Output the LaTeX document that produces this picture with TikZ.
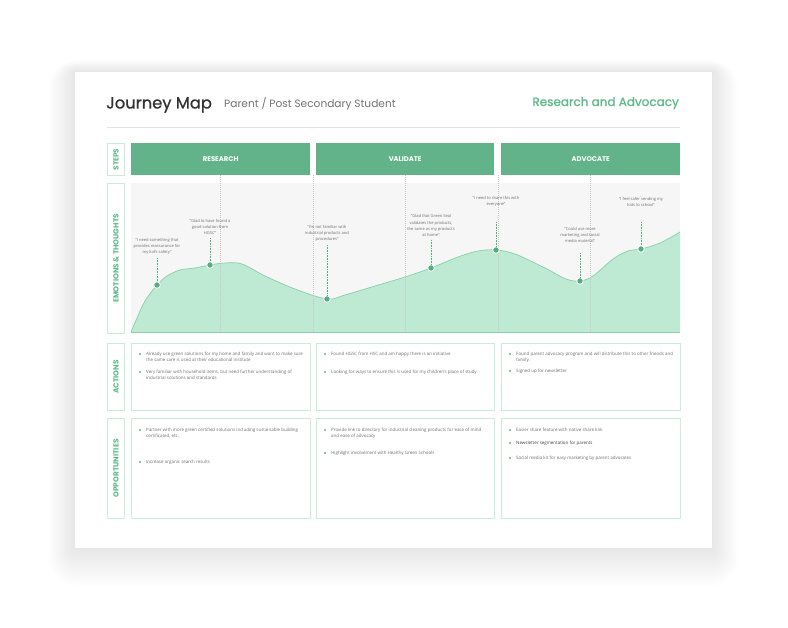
\documentclass[tikz,border=0pt]{standalone}
\usepackage{fontspec}
\setmainfont{Open Sans}
\newfontfamily\pop{Poppins}
\newfontfamily\popm[FakeBold=0.9]{Poppins}
\definecolor{stepgreen}{HTML}{62B38A}
\definecolor{fillgreen}{HTML}{BEE9D2}
\definecolor{linegreen}{HTML}{86D0AA}
\definecolor{dotgreen}{HTML}{52AF7F}
\definecolor{mint}{HTML}{C9ECDB}
\definecolor{chartbg}{HTML}{F6F6F6}
\definecolor{txtgray}{HTML}{707070}
\definecolor{titlegreen}{HTML}{5DBA8B}
\definecolor{rulegray}{HTML}{E2E2E2}
\tikzset{
  lblbox/.style={draw=mint, line width=1pt, fill=white, minimum width=17pt, anchor=north west, inner sep=0pt},
  lbltext/.style={rotate=90, font=\pop\bfseries\fontsize{7.4}{8}\selectfont, text=titlegreen, inner sep=0pt},
  stepbox/.style={fill=stepgreen, minimum width=179pt, minimum height=32pt, anchor=north west, inner sep=0pt,
     font=\pop\bfseries\fontsize{6.8}{7}\selectfont, text=white},
  cellbox/.style={draw=mint, line width=1pt, fill=white, anchor=north west, inner sep=0pt},
  itm/.style={anchor=north west, inner sep=0pt, align=left, text=txtgray, font=\fontsize{4.45}{6.2}\selectfont},
  quote/.style={anchor=south, inner sep=0pt, align=center, text=txtgray, font=\fontsize{4.05}{6.3}\selectfont},
  conn/.style={draw=dotgreen, line width=0.7pt, dash pattern=on 0.8pt off 0.8pt},
  emodot/.style={circle, fill=dotgreen, draw=white, line width=0.8pt, minimum size=6.5pt, inner sep=0pt},
  vgrid/.style={draw=black!22, line width=0.4pt, dash pattern=on 1pt off 1pt}
}
\newcommand{\bul}[4]{%
  \fill[stepgreen] (#2-6,#3) circle (1.1pt);
  \node[itm] (#1) at (#2,#3-2) {#4};}
\begin{document}
\begin{tikzpicture}[x=1pt,y=-1pt]
\useasboundingbox (0,0) rectangle (788,628);
\fill[white] (0,0) rectangle (788,628);
% shadow
\foreach \s in {1,...,24}{
  \fill[black, opacity=0.0045, rounded corners=\s*1.2pt] (75-\s*1.1,72-\s*0.5) rectangle (712+\s*1.1,548+\s*1.6);
}
\node[fill=white, minimum width=637pt, minimum height=476pt, anchor=north west, inner sep=0pt] (card) at (75,72) {};
% header
\node[anchor=base west, inner sep=0pt, font=\popm\fontsize{16.3}{18}\selectfont, text=black!80] (title) at (106,108.5) {Journey Map};
\node[anchor=base west, inner sep=0pt, font=\pop\fontsize{10.6}{12}\selectfont, text=black!55] (sub) at (224,108) {Parent / Post Secondary Student};
\node[anchor=base east, inner sep=0pt, font=\popm\fontsize{12}{13}\selectfont, text=titlegreen] (rtitle) at (679,106) {Research and Advocacy};
\coordinate (ruleL) at (107,127);
\coordinate (ruleR) at (680,127);
\draw[rulegray, line width=0.8pt] (ruleL) -- (ruleR);
% row labels
\node[lblbox, minimum height=32pt] (lsteps) at (107,143) {};
\node[lbltext] at (lsteps.center) {STEPS};
\node[lblbox, minimum height=150pt] (lemo) at (107,183) {};
\node[lbltext] at (lemo.center) {EMOTIONS \& THOUGHTS};
\node[lblbox, minimum height=67pt] (lact) at (107,343) {};
\node[lbltext] at (lact.center) {ACTIONS};
\node[lblbox, minimum height=100pt] (lopp) at (107,418) {};
\node[lbltext] at (lopp.center) {OPPORTUNITIES};
% steps
\node[stepbox] (s1) at (131,143) {RESEARCH};
\node[stepbox, minimum width=178pt] (s2) at (316,143) {VALIDATE};
\node[stepbox] (s3) at (501,143) {ADVOCATE};
% chart
\fill[chartbg] (131,183) rectangle (680,333);
\def\curve{(131,332) (137,318) (145,301) (157,285) (167,276) (180,270) (195,268) (210,265) (225,263) (242,264) (265,276) (295,289) (327,299) (345,295) (375,286) (405,277) (431,268) (458,257) (478,251) (496,250) (515,254) (545,268) (566,279) (580,281) (593,276) (613,259) (628,251) (641,249) (660,243) (680,232)}
\fill[fillgreen] (131,333) -- plot[smooth, tension=0.55] coordinates {\curve} -- (680,333) -- cycle;
\draw[linegreen, line width=0.7pt] plot[smooth, tension=0.55] coordinates {\curve};
\draw[linegreen, line width=1pt] (131,333) -- (680,333);
% vertical guides
\foreach \x in {220,313,405,498,590}{
  \draw[vgrid] (\x,175) -- (\x,333);
}
% quotes and dots
\node[quote] (q1) at (157,255) {"I need something that\\provides reassurance for\\my kid's safety"};
\node[quote] (q2) at (210,235) {"Glad to have found a\\good solution from\\HGSC"};
\node[quote] (q3) at (327,242) {"I'm not familiar with\\industrial products and\\procedures"};
\node[quote] (q4) at (431,237) {"Glad that Green Seal\\validates the products,\\the same as my products\\at home"};
\node[quote] (q5) at (496,207) {"I need to share this with\\everyone"};
\node[quote] (q6) at (580,243) {"Could use more\\marketing and social\\media material"};
\node[quote] (q7) at (641,207) {"I feel safer sending my\\kids to school"};
\node[emodot] (d1) at (157,285) {};
\node[emodot] (d2) at (210,265) {};
\node[emodot] (d3) at (327,299) {};
\node[emodot] (d4) at (431,268) {};
\node[emodot] (d5) at (496,250) {};
\node[emodot] (d6) at (580,281) {};
\node[emodot] (d7) at (641,249) {};
\foreach \i/\g in {1/3,2/3,3/3,4/3,5/15,6/10,7/15}{
  \draw[conn] ([yshift=-\g pt]q\i.south) -- (d\i.north);
}
% actions
\node[cellbox, minimum width=179pt, minimum height=67pt] (a1) at (131,343) {};
\node[cellbox, minimum width=178pt, minimum height=67pt] (a2) at (316,343) {};
\node[cellbox, minimum width=179pt, minimum height=67pt] (a3) at (501,343) {};
\node[cellbox, minimum width=179pt, minimum height=100pt] (o1) at (131,418) {};
\node[cellbox, minimum width=178pt, minimum height=100pt] (o2) at (316,418) {};
\node[cellbox, minimum width=179pt, minimum height=100pt] (o3) at (501,418) {};
\bul{a1a}{146}{354}{Already use green solutions for my home and family and want to make sure\\the same care is used at their educational institute}
\bul{a1b}{146}{372}{Very familiar with household items, but need further understanding of\\industrial solutions and standards}
\bul{a2a}{331}{354}{Found HGSC from HSC and am happy there is an initiative}
\bul{a2b}{331}{372}{Looking for ways to ensure this is used for my children's place of study.}
\bul{a3a}{516}{354}{Found parent advocacy program and will distribute this to other friends and\\family.}
\bul{a3b}{516}{371}{Signed up for newsletter}
\bul{o1a}{146}{430}{Partner with more green certified solutions including sustainable building\\certificated, etc.}
\bul{o1b}{146}{462}{Increase organic search results}
\bul{o2a}{331}{430}{Provide link to directory for industrial cleaning products for ease of mind\\and ease of advocacy}
\bul{o2b}{331}{453}{Highlight involvement with Healthy Green Schools}
\bul{o3a}{516}{430}{Easier share feature with native share link}
\bul{o3b}{516}{443}{\textcolor{black!75}{Newsletter segmentation for parents}}
\bul{o3c}{516}{458}{Social media kit for easy marketing by parent advocates}
\end{tikzpicture}
\end{document}
